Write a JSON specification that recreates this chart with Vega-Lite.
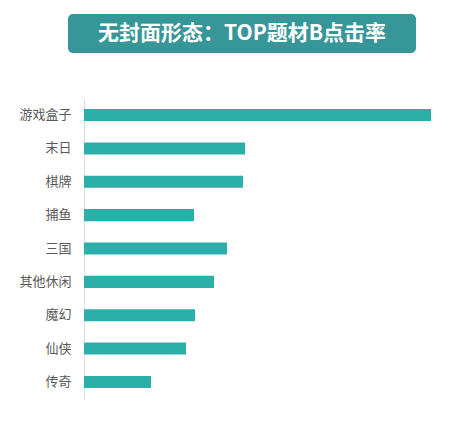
{
  "$schema": "https://vega.github.io/schema/vega-lite/v6.json",
  "background": "white",
  "padding": {"left": 18, "top": 14, "right": 0, "bottom": 10},
  "config": {"view": {"stroke": null}, "font": "Noto Sans CJK SC"},
  "spacing": 45,
  "vconcat": [
    {
      "width": 348,
      "height": 39,
      "view": {"fill": "#379697", "cornerRadius": 5, "stroke": null},
      "data": {"values": [{"title": "无封面形态：TOP题材B点击率"}]},
      "mark": {"type": "text", "color": "white", "fontSize": 21, "fontWeight": "bold", "font": "Noto Sans CJK SC", "baseline": "middle", "align": "center"},
      "encoding": {"text": {"field": "title", "type": "nominal"}}
    },
    {
      "width": 395,
      "height": 301,
      "data": {
        "values": [
          {"category": "游戏盒子", "value": 34.7},
          {"category": "末日", "value": 16.1},
          {"category": "棋牌", "value": 15.9},
          {"category": "捕鱼", "value": 11.0},
          {"category": "三国", "value": 14.3},
          {"category": "其他休闲", "value": 13.0},
          {"category": "魔幻", "value": 11.1},
          {"category": "仙侠", "value": 10.2},
          {"category": "传奇", "value": 6.7}
        ]
      },
      "mark": {"type": "bar", "color": "#2bb0a9"},
      "encoding": {
        "y": {
          "field": "category",
          "type": "nominal",
          "sort": null,
          "scale": {"paddingInner": 0.64, "paddingOuter": 0.33},
          "axis": {
            "title": null,
            "ticks": false,
            "offset": -16,
            "domainColor": "#dddddd",
            "domainWidth": 1,
            "labelColor": "#595959",
            "labelFontSize": 13,
            "labelPadding": 13,
            "labelFont": "Noto Sans CJK SC"
          }
        },
        "x": {
          "field": "value",
          "type": "quantitative",
          "scale": {"domain": [-1.6, 37.9]},
          "axis": null
        }
      }
    }
  ]
}
